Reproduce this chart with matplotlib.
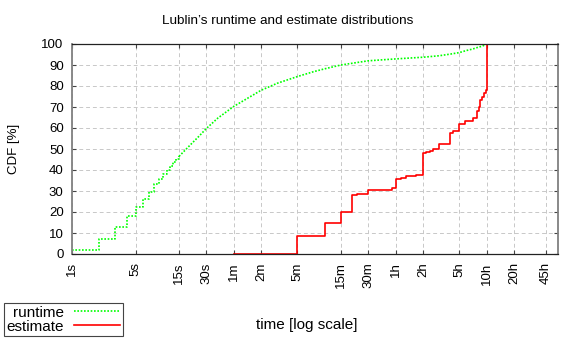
import numpy as np
import matplotlib
matplotlib.use("Agg")
import matplotlib.pyplot as plt
from matplotlib.lines import Line2D

plt.rcParams["font.family"] = ["Liberation Sans", "DejaVu Sans"]

# runtime CDF: integer-second steps at the short end
run_step_t = [1, 2, 3, 4, 5, 6, 7, 8, 9, 10, 11, 12, 13, 14, 15]
run_step_p = [1.9, 7.1, 12.9, 18.1, 22.4, 26.2, 29.7, 33.2, 35.7, 37.9,
              40.0, 41.9, 43.7, 45.1, 46.5]
# runtime CDF: smooth part
run_t = [15, 20, 25, 30, 40, 60, 90, 120, 180, 300, 450, 600, 900, 1800,
         3600, 7200, 10800, 14400, 18000, 21600, 25200, 28800, 32400, 36000]
run_p = [46.5, 52.0, 56.2, 59.8, 64.7, 70.3, 74.8, 78.0, 81.3, 84.5, 86.8,
         88.2, 90.0, 92.0, 92.9, 93.7, 94.4, 95.2, 95.9, 96.9, 97.6, 98.4,
         99.0, 100.0]

# estimate CDF (value after each step)
est_t = [60, 300, 600, 900, 1200, 1340, 1800, 3260, 3600, 4100, 4700, 6100,
         7150, 7700, 8500, 9300, 10800, 14250, 15300, 18000, 21000, 25500,
         27900, 29600, 30500, 32200, 33800, 35200, 36000]
est_p = [0, 8.6, 14.9, 20.2, 27.9, 28.6, 30.4, 31.3, 35.7, 36.3, 37.0, 37.5,
         48.0, 48.4, 49.0, 49.8, 52.2, 57.4, 58.7, 61.7, 63.3, 65.0,
         68.1, 70.2, 73.3, 74.9, 76.5, 78.1, 100.0]

tick_sec = [1, 5, 15, 30, 60, 120, 300, 900, 1800, 3600, 7200, 18000,
            36000, 72000, 162000]
tick_lbl = ["1s", "5s", "15s", "30s", "1m", "2m", "5m", "15m", "30m", "1h",
            "2h", "5h", "10h", "20h", "45h"]

fig = plt.figure(figsize=(5.76, 3.4), dpi=100)
ax = fig.add_axes([72 / 576, 86 / 340, 486 / 576, 210 / 340])

green = "#00ff00"
red = "#ff0000"
dots = (0, (1, 1))

ax.plot(run_step_t, run_step_p, drawstyle="steps-post", color=green,
        lw=1.2, ls=dots)
ax.plot(run_t, run_p, color=green, lw=1.2, ls=dots)
ax.plot(est_t, est_p, drawstyle="steps-post", color=red, lw=1.2)

ax.set_xscale("log")
ax.set_xlim(1, 2.19e5)
ax.set_ylim(0, 100)
ax.set_xticks(tick_sec)
ax.set_xticklabels(tick_lbl, rotation=90, fontsize=9.5)
ax.xaxis.set_minor_locator(matplotlib.ticker.NullLocator())
ax.set_yticks(np.arange(0, 101, 10))
ax.tick_params(axis="y", labelsize=9.5, pad=6)
ax.tick_params(axis="x", pad=6)
ax.tick_params(direction="in", length=3, width=0.8, top=True, right=True,
               color="#444444")

ax.grid(True, color="#c8c8c8", lw=0.7, ls=(0, (4, 3)))
ax.set_axisbelow(True)

for s in ["left", "right"]:
    ax.spines[s].set_color("#808080")
    ax.spines[s].set_linewidth(1.3)
for s in ["top", "bottom"]:
    ax.spines[s].set_color("#222222")
    ax.spines[s].set_linewidth(0.9)

fig.text(0.5, 1 - 21 / 340, "Lublin\u2019s runtime and estimate distributions",
         ha="center", va="center", fontsize=9.7)
fig.text(14 / 576, 1 - 149 / 340, "CDF [%]", rotation=90, ha="center",
         va="center", fontsize=9.5)
fig.text(307 / 576, 1 - 325 / 340, "time [log scale]", ha="center",
         va="center", fontsize=11)

handles = [Line2D([], [], color=green, lw=1.2, ls=dots),
           Line2D([], [], color=red, lw=1.2)]
leg = fig.legend(handles, ["runtime", "estimate"], loc="lower left",
                 bbox_to_anchor=(4 / 576, 4 / 340), markerfirst=False,
                 alignment="right", fancybox=False, fontsize=11,
                 borderpad=0.15, labelspacing=0.0, handlelength=3.0,
                 handletextpad=0.7, borderaxespad=0, framealpha=1)
leg.get_frame().set_edgecolor("#444444")
leg.get_frame().set_linewidth(0.8)

fig.savefig("out.png", dpi=100)
